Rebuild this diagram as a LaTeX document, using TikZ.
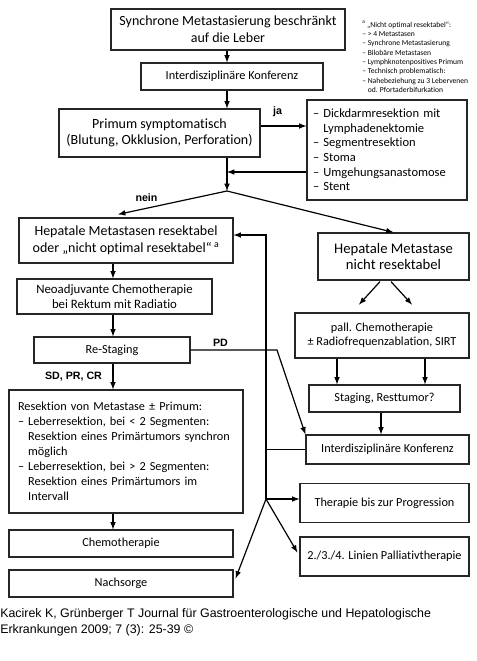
\documentclass[tikz,border=0pt]{standalone}
\usepackage{fontspec}
\setmainfont[Ligatures=NoCommon]{Carlito}
\newfontfamily\capfont{Liberation Sans}
\usepackage{tikz}
\usetikzlibrary{positioning}
\usetikzlibrary{arrows}
\usetikzlibrary{calc}
\tikzset{>=latex}
\tikzstyle{bigbox}=[black,draw=black!85,line width=0.9pt,shape=rectangle,fill=white,inner sep=0pt,align=center,font=\fontsize{10.5}{12.5}\selectfont]
\tikzstyle{smallbox}=[bigbox,font=\fontsize{9.2}{11.25}\selectfont]
\tikzstyle{taro}=[->,line width=0.9pt,color=black]
\tikzstyle{lbl}=[inner sep=0pt,font=\capfont\bfseries\fontsize{8}{9}\selectfont]

\begin{document}
\begin{tikzpicture}[x=0.75pt,y=-0.75pt]
	\useasboundingbox (0,0) rectangle (477,661);
	
	% Top
	\node[bigbox,minimum width=175.5pt,minimum height=30.75pt] (start) at (228, 29.5) {Synchrone Metastasierung beschränkt\\auf die Leber};
	\node[smallbox,minimum width=136.5pt,minimum height=20.25pt] (konf1) at (232, 76.5) {Interdisziplinäre Konferenz};
	\node[bigbox,minimum width=150.75pt,minimum height=36pt] (primum) at (159.5, 133) {Primum symptomatisch\\(Blutung, Okklusion, Perforation)};
	\node[bigbox,align=left,text width=111pt,inner xsep=4.5pt,minimum height=75pt,font=\fontsize{9.4}{11}\selectfont] (dick) at (387, 150) {– Dickdarmresektion mit\\\hphantom{– }Lymphadenektomie\\– Segmentresektion\\– Stoma\\– Umgehungsanastomose\\– Stent};
	\node[anchor=north west,inner sep=0pt,align=left,font=\fontsize{5.7}{7}\selectfont] (fnote) at (362, 21) {\textsuperscript{a} „Nicht optimal resektabel“:\\– > 4 Metastasen\\– Synchrone Metastasierung\\– Bilobäre Metastasen\\– Lymphknotenpositives Primum\\– Technisch problematisch:\\– Nahebeziehung zu 3 Lebervenen\\\hphantom{– }od. Pfortaderbifurkation};
	\coordinate (axis) at (227, 0);
	\coordinate (merge) at (227, 172);
	\coordinate (fork) at (227, 191);
	\coordinate (jaPt) at (0, 126);
	\draw[taro] (start.south -| axis) -- (konf1.north -| axis);
	\draw[taro] (konf1.south -| axis) -- (primum.north -| axis);
	\draw[taro] (primum.south -| axis) -- (fork);
	\draw[taro] (primum.east |- jaPt) -- (dick.west |- jaPt);
	\draw[taro] (dick.west |- merge) -- (merge);
	\node[lbl] (ja) at (277.5, 112) {ja};
	
	% Resectable
	\node[bigbox,minimum width=160.5pt,minimum height=33.75pt] (resek) at (126, 240.5) {Hepatale Metastasen resektabel\\oder „nicht optimal resektabel“\,\textsuperscript{a}};
	\node[smallbox,minimum width=146.25pt,minimum height=26.25pt,font=\fontsize{9.6}{11.25}\selectfont] (neoadj) at (114.5, 296.5) {Neoadjuvante Chemotherapie\\bei Rektum mit Radiatio};
	\node[smallbox,minimum width=117pt,minimum height=19.5pt] (restag) at (112, 350) {Re-Staging};
	\node[smallbox,align=left,text width=162pt,inner xsep=6.75pt,minimum height=92.25pt] (resektion) at (126, 451.5) {Resektion von Metastase ± Primum:\\– Leberresektion, bei < 2 Segmenten:\\\hphantom{– }Resektion eines Primärtumors synchron\\\hphantom{– }möglich\\– Leberresektion, bei > 2 Segmenten:\\\hphantom{– }Resektion eines Primärtumors im\\\hphantom{– }Intervall};
	\node[smallbox,minimum width=168pt,minimum height=20.25pt] (chemo) at (121, 543.5) {Chemotherapie};
	\node[smallbox,minimum width=168pt,minimum height=20.25pt] (nachsorge) at (121, 583.5) {Nachsorge};
	\coordinate (lcol) at (113, 0);
	\draw[taro] (fork) -- ($(resek.north)+(-8,-3)$);
	\draw[taro] (resek.south -| lcol) -- (neoadj.north -| lcol);
	\draw[taro] (neoadj.south -| lcol) -- (restag.north -| lcol);
	\draw[taro] (restag.south -| lcol) -- (resektion.north -| lcol);
	\draw[taro] (resektion.south -| lcol) -- (chemo.north -| lcol);
	\node[lbl] (nein) at (146.5, 198) {nein};
	\node[lbl] (sdprcr) at (73.5, 377) {SD, PR, CR};
	
	% Not resectable
	\node[bigbox,minimum width=113.25pt,minimum height=35.25pt,font=\fontsize{11}{12}\selectfont] (nresek) at (393.5, 256.5) {Hepatale Metastase\\nicht resektabel};
	\node[smallbox,minimum width=130.5pt,minimum height=33.75pt,font=\fontsize{9.2}{10.5}\selectfont] (pall) at (382, 335.5) {pall. Chemotherapie\\± Radiofrequenzablation, SIRT};
	\node[smallbox,minimum width=113.25pt,minimum height=20.25pt] (staging) at (384.5, 398.5) {Staging, Resttumor?};
	\node[smallbox,minimum width=122.25pt,minimum height=21.75pt] (konf2) at (387.5, 449.5) {Interdisziplinäre Konferenz};
	\node[smallbox,minimum width=126.75pt,minimum height=29.25pt] (therapie) at (384.5, 503) {Therapie bis zur Progression};
	\node[smallbox,minimum width=126.75pt,minimum height=29.25pt] (linien) at (384.5, 556.5) {2./3./4. Linien Palliativtherapie};
	\coordinate (stA) at (337, 0);
	\coordinate (stB) at (425, 0);
	\draw[taro] (fork) -- (nresek.north);
	\draw[taro] ($(nresek.south)+(-13.5,1)$) -- ($(nresek.south)+(-34.5,24)$);
	\draw[taro] ($(nresek.south)+(-2.5,1)$) -- ($(nresek.south)+(18.5,24)$);
	\draw[taro] (pall.south -| stA) -- (staging.north -| stA);
	\draw[taro] (pall.south -| stB) -- (staging.north -| stB);
	\draw[taro] ($(staging.south)+(-3.5,0)$) -- ($(konf2.north)+(-6.5,0)$);
	
	% Loop and PD
	\coordinate (pdknick) at (277, 350);
	\coordinate (loop) at (266, 235);
	\coordinate (branch) at (266, 499);
	\draw[taro] (restag.east) -- (pdknick) -- (konf2.north west);
	\node[lbl] (pd) at (220.5, 343) {PD};
	\draw[taro] (branch) -- (loop) -- (resek.east |- loop);
	\draw[line width=0.9pt] (konf2.west) -- (konf2.west -| branch);
	\draw[taro] (branch) -- (therapie.west |- branch);
	\draw[taro] (branch) -- ($(linien.west)+(-2,-4)$);
	\draw[taro] (branch) -- ($(nachsorge.east)+(2,-5)$);
	
	% Caption
	\node[anchor=north west,inner sep=0pt,align=left,font=\capfont\fontsize{9.3}{12}\selectfont] (caption) at (0, 608) {Kacirek K, Grünberger T Journal für Gastroenterologische und Hepatologische\\Erkrankungen 2009; 7 (3): 25-39 ©};
	
\end{tikzpicture}
\end{document}
